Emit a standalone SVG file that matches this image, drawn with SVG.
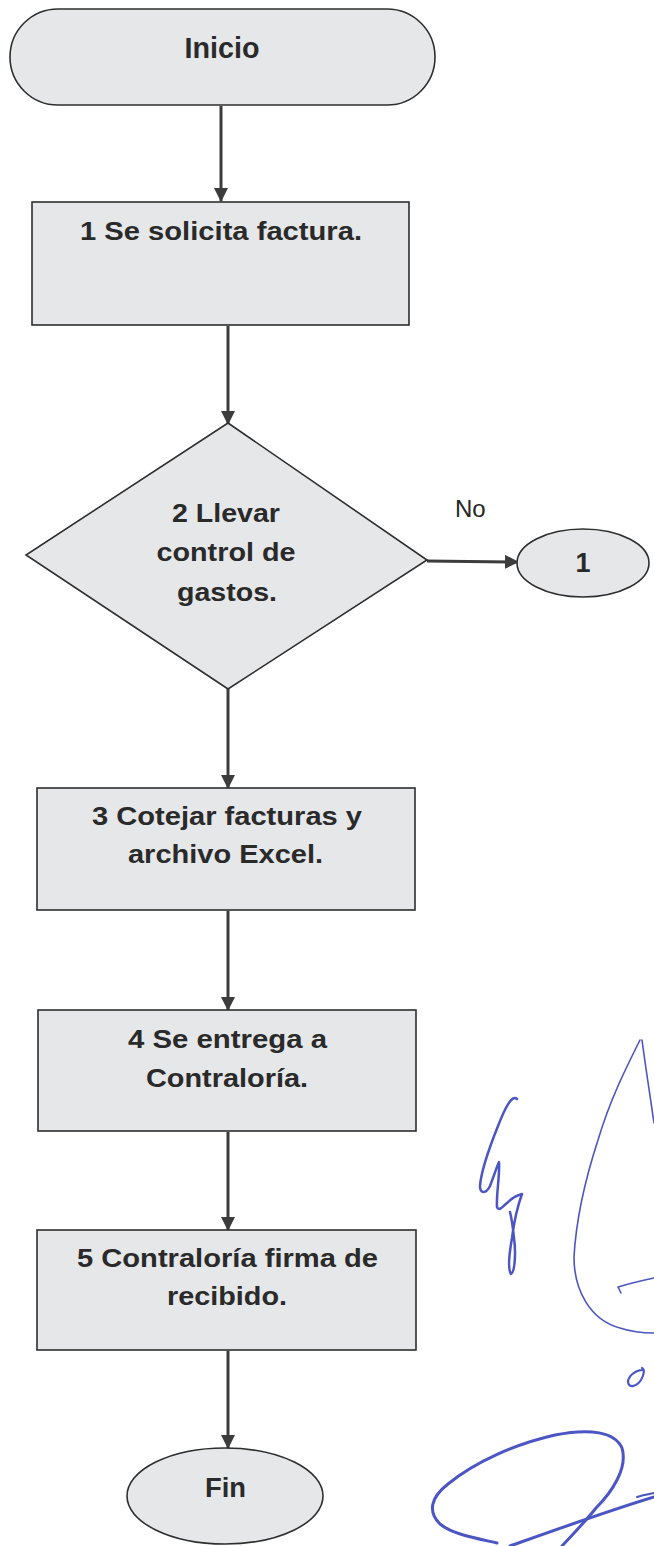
<svg xmlns="http://www.w3.org/2000/svg" width="654" height="1546" viewBox="0 0 654 1546">
<style>
.shape{fill:#e5e7e9;stroke:#2e2e2e;stroke-width:1.6}
.lbl{font-family:"Liberation Sans",Arial,sans-serif;font-weight:bold;font-size:26.5px;fill:#2a2a2a;text-anchor:middle}
.conn{stroke:#3c3c3c;stroke-width:3;fill:none}
.ink{fill:none;stroke:#4b55c4;stroke-linecap:round;stroke-linejoin:round}
</style>
<defs>
<marker id="arr" markerUnits="userSpaceOnUse" markerWidth="14" markerHeight="14" refX="13" refY="7" orient="auto">
<path d="M0,0 L14,7 L0,14 z" fill="#3c3c3c"/>
</marker>
</defs>
<rect width="654" height="1546" fill="#ffffff"/>

<g id="connectors">
<line class="conn" x1="221" y1="106" x2="221" y2="201" marker-end="url(#arr)"/>
<line class="conn" x1="228" y1="326" x2="228" y2="424" marker-end="url(#arr)"/>
<line class="conn" x1="427" y1="561" x2="518" y2="562" stroke-width="4" marker-end="url(#arr)"/>
<line class="conn" x1="228" y1="689" x2="228" y2="788" marker-end="url(#arr)"/>
<line class="conn" x1="228" y1="911" x2="228" y2="1010" marker-end="url(#arr)"/>
<line class="conn" x1="228" y1="1132" x2="228" y2="1230" marker-end="url(#arr)"/>
<line class="conn" x1="228" y1="1351" x2="228" y2="1448" marker-end="url(#arr)"/>
<text x="455" y="517" font-family="'Liberation Sans',Arial,sans-serif" font-size="24" fill="#262626">No</text>
</g>

<g id="inicio">
<rect class="shape" x="10" y="9" width="425" height="96" rx="48" ry="48"/>
<text class="lbl" x="222" y="58" style="font-size:29px" textLength="75" lengthAdjust="spacingAndGlyphs">Inicio</text>
</g>

<g id="paso1">
<rect class="shape" x="32" y="202" width="377" height="123"/>
<text class="lbl" x="221" y="240" textLength="282" lengthAdjust="spacingAndGlyphs">1 Se solicita factura.</text>
</g>

<g id="paso2">
<polygon class="shape" points="228,423 427,560 228,689 26,555"/>
<text class="lbl" x="226" y="522" textLength="108" lengthAdjust="spacingAndGlyphs">2 Llevar</text>
<text class="lbl" x="226" y="561" textLength="139" lengthAdjust="spacingAndGlyphs">control de</text>
<text class="lbl" x="227" y="601" textLength="100" lengthAdjust="spacingAndGlyphs">gastos.</text>
</g>

<g id="conector1">
<ellipse class="shape" cx="583" cy="563" rx="66" ry="34"/>
<text class="lbl" x="583" y="572" style="font-size:27px">1</text>
</g>

<g id="paso3">
<rect class="shape" x="37" y="788" width="378" height="122"/>
<text class="lbl" x="227" y="825" textLength="270" lengthAdjust="spacingAndGlyphs">3 Cotejar facturas y</text>
<text class="lbl" x="225.5" y="863" textLength="195" lengthAdjust="spacingAndGlyphs">archivo Excel.</text>
</g>

<g id="paso4">
<rect class="shape" x="38" y="1010" width="378" height="121"/>
<text class="lbl" x="227.5" y="1048" textLength="199" lengthAdjust="spacingAndGlyphs">4 Se entrega a</text>
<text class="lbl" x="227" y="1087" textLength="162" lengthAdjust="spacingAndGlyphs">Contraloría.</text>
</g>

<g id="paso5">
<rect class="shape" x="37" y="1230" width="379" height="120"/>
<text class="lbl" x="227.5" y="1267" textLength="301" lengthAdjust="spacingAndGlyphs">5 Contraloría firma de</text>
<text class="lbl" x="227" y="1305" textLength="120" lengthAdjust="spacingAndGlyphs">recibido.</text>
</g>

<g id="fin">
<ellipse class="shape" cx="225" cy="1496" rx="98" ry="48"/>
<text class="lbl" x="225.5" y="1497" style="font-size:27px" textLength="41" lengthAdjust="spacingAndGlyphs">Fin</text>
</g>

<g id="firmas">
<path class="ink" stroke-width="2.5" d="M517,1099 C512,1094 505,1108 498,1126 C490,1146 481,1172 480,1186 C480,1194 486,1194 490,1186 C494,1176 497,1166 499,1162 C500,1175 496,1196 497,1207 C499,1212 503,1206 507,1203 C512,1198 518,1195 522,1194 C518,1205 514,1222 512,1238 C509,1255 508,1270 511,1274 C515,1272 516,1252 514,1238 C513,1228 511,1216 510,1212"/>
<path class="ink" stroke-width="1.6" d="M640,1040 C625,1070 610,1100 598,1140 C585,1180 576,1220 574,1257 C574,1290 590,1320 620,1328 C632,1332 645,1333 654,1333"/>
<path class="ink" stroke-width="1.6" d="M642,1040 C646,1070 650,1095 654,1123"/>
<path class="ink" stroke-width="1.6" d="M654,1278 C640,1281 628,1284 618,1287 L621,1293"/>
<path class="ink" stroke-width="2.2" d="M642,1370 C636,1370 628,1376 628,1382 C629,1389 637,1386 641,1380 C644,1375 645,1369 642,1368"/>
<path class="ink" stroke-width="3" d="M497,1543 C475,1538 452,1534 440,1524 C428,1512 430,1498 448,1484 C475,1462 515,1444 555,1435 C590,1428 615,1432 622,1448 C628,1468 612,1492 596,1508 C585,1522 572,1535 562,1546"/>
<path class="ink" stroke-width="3" d="M510,1546 C555,1530 605,1512 654,1497"/>
<path class="ink" stroke-width="2" d="M637,1497 C643,1495 649,1494 654,1493"/>
</g>
</svg>
